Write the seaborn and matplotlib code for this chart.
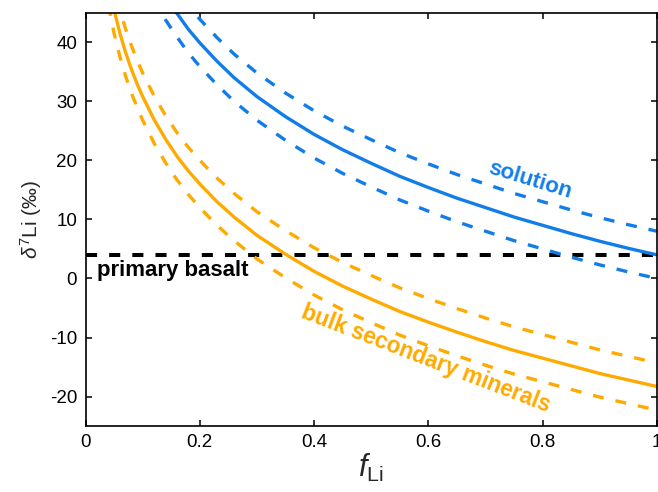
import numpy as np
import pandas as pd
import seaborn as sns
import matplotlib.pyplot as plt

# values (delta7Li in permil vs fraction of Li left)
f_sol = [0.10, 0.12, 0.14, 0.16, 0.18, 0.20, 0.23, 0.26, 0.30, 0.35, 0.40, 0.45, 0.50,
         0.55, 0.60, 0.65, 0.70, 0.75, 0.80, 0.85, 0.90, 0.95, 1.00]
sol_mid = [55.4, 51.3, 47.8, 44.9, 42.2, 39.9, 36.8, 34.0, 30.8, 27.4, 24.4, 21.8, 19.5,
           17.3, 15.4, 13.6, 12.0, 10.4, 9.0, 7.6, 6.3, 5.1, 4.0]
sol_hi = [59.4, 55.3, 51.8, 48.9, 46.2, 43.9, 40.8, 38.0, 34.8, 31.4, 28.4, 25.8, 23.5,
          21.3, 19.4, 17.6, 16.0, 14.4, 13.0, 11.6, 10.3, 9.1, 8.0]
sol_lo = [51.4, 47.3, 43.8, 40.9, 38.2, 35.9, 32.8, 30.0, 26.8, 23.4, 20.4, 17.8, 15.5,
          13.3, 11.4, 9.6, 8.0, 6.4, 5.0, 3.6, 2.3, 1.1, 0.0]

f_sec = [0.04, 0.05, 0.06, 0.07, 0.08, 0.09, 0.10, 0.12, 0.14, 0.16, 0.18, 0.20, 0.23,
         0.26, 0.30, 0.35, 0.40, 0.45, 0.50, 0.55, 0.60, 0.65, 0.70, 0.75, 0.80, 0.85,
         0.90, 0.95, 1.00]
sec_mid = [50.3, 45.5, 41.6, 38.3, 35.5, 33.0, 30.8, 26.9, 23.6, 20.7, 18.2, 16.0, 13.0,
           10.4, 7.3, 4.1, 1.2, -1.3, -3.5, -5.6, -7.4, -9.1, -10.7, -12.2, -13.5, -14.8,
           -16.1, -17.2, -18.3]
sec_hi = [54.3, 49.5, 45.6, 42.3, 39.5, 37.0, 34.8, 30.9, 27.6, 24.7, 22.2, 20.0, 17.0,
          14.4, 11.3, 8.1, 5.2, 2.7, 0.5, -1.6, -3.4, -5.1, -6.7, -8.2, -9.5, -10.8,
          -12.1, -13.2, -14.3]
sec_lo = [46.3, 41.5, 37.6, 34.3, 31.5, 29.0, 26.8, 22.9, 19.6, 16.7, 14.2, 12.0, 9.0,
          6.4, 3.3, 0.1, -2.8, -5.3, -7.5, -9.6, -11.4, -13.1, -14.7, -16.2, -17.5, -18.8,
          -20.1, -21.2, -22.3]

basalt_f = [0.0, 1.0]
basalt_d = [4.0, 4.0]

blue = "#127de8"
orange = "#ffaa00"

sns.set_style("ticks")
plt.rcParams["font.family"] = ["Liberation Sans", "DejaVu Sans"]
plt.rcParams["mathtext.fontset"] = "custom"
plt.rcParams["mathtext.rm"] = "Liberation Sans"
plt.rcParams["mathtext.it"] = "Liberation Sans:italic"
plt.rcParams["axes.unicode_minus"] = False

fig = plt.figure(figsize=(6.58, 4.92), dpi=100)
ax = fig.add_axes([0.13, 0.134, 0.8685, 0.840])

dash_c = (3.3, 3.6)
lw = 2.4

sns.lineplot(x=basalt_f, y=basalt_d, color="black", lw=2.9,
             linestyle=(0, (2.75, 3.0)), ax=ax)

for f, d, ls in [(f_sol, sol_mid, "-"), (f_sol, sol_hi, (0, dash_c)), (f_sol, sol_lo, (0, dash_c))]:
    sns.lineplot(x=f, y=d, color=blue, lw=lw, linestyle=ls, ax=ax)
for f, d, ls in [(f_sec, sec_mid, "-"), (f_sec, sec_hi, (0, dash_c)), (f_sec, sec_lo, (0, dash_c))]:
    sns.lineplot(x=f, y=d, color=orange, lw=lw, linestyle=ls, ax=ax)

ax.set_xlim(0, 1)
ax.set_ylim(-25, 45)
ax.set_xticks([0, 0.2, 0.4, 0.6, 0.8, 1.0])
ax.set_xticklabels(["0", "0.2", "0.4", "0.6", "0.8", "1"])
ax.set_yticks([-20, -10, 0, 10, 20, 30, 40])
ax.tick_params(direction="in", length=4.5, width=1.1, labelsize=13.5, pad=6,
               top=True, right=True, colors="black")
for sp in ax.spines.values():
    sp.set_linewidth(1.2)
    sp.set_color("black")

ax.set_xlabel(r"$f_{\mathrm{Li}}$", fontsize=22, labelpad=0)
ax.set_ylabel(r"$\delta^7$Li (‰)", fontsize=15, labelpad=4)

ax.text(0.02, 1.3, "primary basalt", fontsize=16, fontweight="bold", color="black",
        ha="left", va="center")
ax.text(0.777, 16.6, "solution", fontsize=16, fontweight="bold", color=blue,
        ha="center", va="center", rotation=-17, rotation_mode="anchor")
ax.text(0.596, -13.6, "bulk secondary minerals", fontsize=16.3, fontweight="bold",
        color=orange, ha="center", va="center", rotation=-21, rotation_mode="anchor")

fig.savefig("out.png", dpi=100)
